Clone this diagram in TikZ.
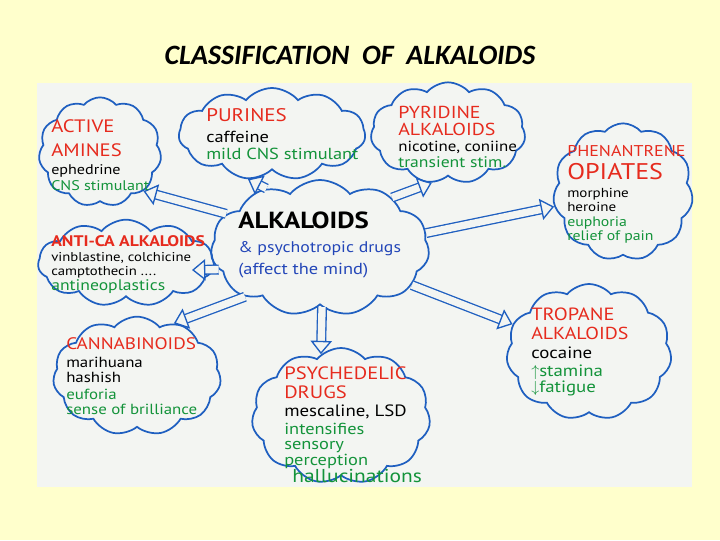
\documentclass[tikz,border=0pt]{standalone}
\usepackage{fontspec}
\setmainfont{PT Sans}[FakeStretch=1.15]
\newfontfamily\titlefont{Carlito}
\usetikzlibrary{shapes.symbols,arrows.meta}

\definecolor{paper}{HTML}{FFFFCC}
\definecolor{board}{HTML}{F3F5F2}
\definecolor{ink}{HTML}{1F5FC0}
\definecolor{hdred}{HTML}{E62B1E}
\definecolor{bdgreen}{HTML}{13933A}
\definecolor{bdblue}{HTML}{2346B8}

% heading, green and blue lines inside the clouds
\newcommand{\hd}[2][13]{{\fontsize{#1}{#1}\selectfont\color{hdred}#2}}
\newcommand{\gr}[2][11]{{\fontsize{#1}{#1}\selectfont\color{bdgreen}#2}}
\newcommand{\bl}[2][11]{{\fontsize{#1}{#1}\selectfont\color{bdblue}#2}}

\begin{document}
\begin{tikzpicture}[x=0.75pt, y=-0.75pt,
    bubble/.style={cloud, cloud puffs=11, cloud puff arc=100, cloud ignores aspect,
        draw=ink, line width=1.3pt, inner sep=0pt},
    notes/.style={anchor=north west, align=left, inner sep=0pt},
    hollow/.style={draw=ink, line width=1pt, double=board, double distance=5.5pt,
        -{Triangle[open, length=10pt, width=16pt]}}]
    % Page and board
    \useasboundingbox[fill=paper] (0,0) rectangle (720,540);
    \fill[board] (37,83) rectangle (692,487);
    \node[font=\titlefont\bfseries\itshape\fontsize{21}{24}\selectfont] (title) at (350,55)
        {CLASSIFICATION\ \ OF\ \ ALKALOIDS};

    % Clouds
    \node[bubble, minimum width=164pt, minimum height=102pt] (alkaloids) at (320,248) {};
    \node[bubble, minimum width=92pt, minimum height=82pt] (amines) at (100,152) {};
    \node[bubble, minimum width=140pt, minimum height=69pt] (purines) at (272,134) {};
    \node[bubble, minimum width=116pt, minimum height=76pt] (pyridine) at (448,133) {};
    \node[bubble, minimum width=105pt, minimum height=103pt] (opiates) at (623,192) {};
    \node[bubble, minimum width=132pt, minimum height=65pt] (antica) at (126,263) {};
    \node[bubble, minimum width=126pt, minimum height=89pt] (cannabinoids) at (137,376) {};
    \node[bubble, minimum width=134pt, minimum height=102pt] (psychedelic) at (341,416) {};
    \node[bubble, minimum width=124pt, minimum height=102pt] (tropane) at (589,352) {};
    \coordinate (anticaTip) at (192,270);

    % Hollow arrows out of the centre
    \draw[hollow] (alkaloids.160) -- (amines.-42);
    \draw[hollow] (alkaloids.132) -- (purines.-118);
    \draw[hollow] (alkaloids.35) -- (pyridine.-108);
    \draw[hollow] (alkaloids.8) -- (opiates.192);
    \draw[hollow] (alkaloids.192) -- (anticaTip);
    \draw[hollow] (alkaloids.213) -- (cannabinoids.55);
    \draw[hollow] (alkaloids.272) -- (psychedelic.108);
    \draw[hollow] (alkaloids.-22) -- (tropane.160);

    % Texts
    \node[notes] (alkaloidsText) at (238,212)
        {{\bfseries\fontsize{17.5}{20}\selectfont ALKALOIDS}\\[6pt]
         \bl[11.6]{\& psychotropic drugs}\\[4pt]
         \bl[12]{(affect the mind)}};
    \node[notes, font=\fontsize{10.5}{12}\selectfont] (aminesText) at (51,119)
        {\hd[13.5]{ACTIVE}\\[6pt] \hd[13.5]{AMINES}\\[2pt] ephedrine\\ \gr[10.5]{CNS stimulant}};
    \node[notes, font=\fontsize{12}{13}\selectfont] (purinesText) at (206,108)
        {\hd[13.7]{PURINES}\\[3pt] caffeine\\ \gr[12]{mild CNS stimulant}};
    \node[notes, font=\fontsize{11}{11.5}\selectfont] (pyridineText) at (398,106)
        {\hd{PYRIDINE}\\[1pt] \hd{ALKALOIDS}\\[1pt] nicotine, coniine\\ \gr[11.5]{transient stim.}};
    \node[notes, font=\fontsize{9.8}{10.5}\selectfont] (opiatesText) at (567,145)
        {\hd[11.7]{PHENANTRENE}\\[4pt] \hd[17]{OPIATES}\\[3pt] morphine\\ heroine\\[1pt] \gr[10.3]{euphoria}\\ \gr[10.3]{relief of pain}};
    \node[notes, font=\fontsize{9.6}{10.5}\selectfont] (anticaText) at (51,235)
        {\hd[11.5]{\bfseries ANTI-CA ALKALOIDS}\\[1pt] vinblastine, colchicine\\ camptothecin ....\\[1pt] \gr[11.5]{antineoplastics}};
    \node[notes, font=\fontsize{11}{11.5}\selectfont] (cannabinoidsText) at (66,337)
        {\hd[12.5]{CANNABINOIDS}\\[2pt] marihuana\\ hashish\\[1pt] \gr[11]{euforia}\\ \gr[11]{sense of brilliance}};
    \node[notes, font=\fontsize{12.3}{11.5}\selectfont] (psychedelicText) at (284,366)
        {\hd[13.4]{PSYCHEDELIC}\\[3pt] \hd[13.4]{DRUGS}\\[2pt] mescaline, LSD\\[2pt] \gr[12]{intensifies}\\ \gr[12]{sensory}\\ \gr[12]{perception}\\ \hspace*{6pt}\gr[14]{hallucinations}};
    \node[notes, font=\fontsize{12.3}{12}\selectfont] (tropaneText) at (531,308)
        {\hd[13.3]{TROPANE}\\[2pt] \hd[13]{ALKALOIDS}\\[2pt] cocaine\\[2pt] \gr[12.3]{$\uparrow$stamina}\\ \gr[12.3]{$\downarrow$fatigue}};
\end{tikzpicture}
\end{document}
